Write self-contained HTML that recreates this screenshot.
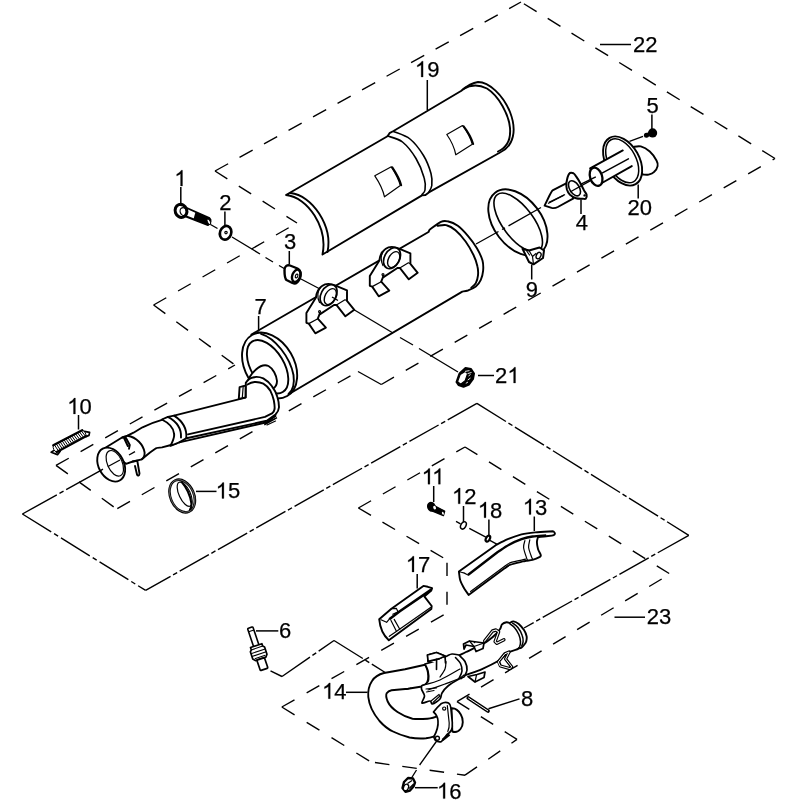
<!DOCTYPE html>
<html>
<head>
<meta charset="utf-8">
<title>Exhaust system - exploded view</title>
<style>
html,body{margin:0;padding:0;background:#fff;}
body{width:800px;height:800px;overflow:hidden;font-family:"Liberation Sans",sans-serif;}
svg{display:block;}
.o{fill:none;stroke:#000;stroke-width:1.9;stroke-linecap:round;stroke-linejoin:round;}
.w{fill:#fff;stroke:#000;stroke-width:1.9;stroke-linecap:round;stroke-linejoin:round;}
.t{fill:none;stroke:#000;stroke-width:1.2;stroke-linecap:round;stroke-linejoin:round;}
.tw{fill:#fff;stroke:#000;stroke-width:1.2;stroke-linejoin:round;}
.k{fill:none;stroke:#000;stroke-width:2.4;stroke-linecap:round;stroke-linejoin:round;}
.kw{fill:#fff;stroke:#000;stroke-width:2.4;stroke-linejoin:round;}
.d{fill:none;stroke:#000;stroke-width:1.4;stroke-dasharray:14.6 13.6;}
.p{fill:none;stroke:#000;stroke-width:1.4;stroke-dasharray:34 3 4.6 3;}
.c{fill:none;stroke:#000;stroke-width:1.35;}
.l{fill:none;stroke:#000;stroke-width:1.5;}
text{font-family:"Liberation Sans",sans-serif;font-size:22px;fill:#000;stroke:#000;stroke-width:.25px;}
</style>
</head>
<body>
<svg width="800" height="800" viewBox="0 0 800 800">
<rect width="800" height="800" fill="#fff"/>
<defs><path id="one" d="M763 0H583V1147Q518 1085 412.5 1023Q307 961 223 930V1104Q374 1175 487 1276Q600 1377 647 1472H763Z" transform="scale(0.010742,-0.010742)" fill="#000" stroke="#000" stroke-width="23"/></defs>

<!-- ===== FRAMES ===== -->
<g id="frames">
<!-- assembly 22 outline (each edge starts with a full dash at its first point) -->
<path class="d" style="stroke-dasharray:15 13" d="M215,171 L521,2"/>
<path class="d" style="stroke-dasharray:15 13" d="M775,158.5 L521,2"/>
<path class="d" d="M381.3,384.5 L775,158.5"/>
<path class="d" style="stroke-dasharray:none" d="M358,371.5 L381.3,384.5"/>
<path class="d" d="M117.3,508.7 L358,371.5"/>
<path class="d" d="M56,465.4 L114.5,507.4"/>
<path class="d" d="M56,465.4 L235,365"/>
<path class="d" d="M153.6,305 L235,365"/>
<path class="d" d="M153.6,305 L297,223"/>
<path class="d" d="M215,171 L297,223"/>
<!-- assembly 23 outline -->
<path class="d" d="M358.4,508 L465,447"/>
<path class="d" d="M465,447 L670,574"/>
<path class="d" style="stroke-dasharray:14.6 13.4" d="M457,701.6 L670,574"/>
<path class="d" d="M457,701.6 L517,739.4"/>
<path class="d" d="M465,775.2 L517,739.4"/>
<path class="d" style="stroke-dasharray:14.6 13;stroke-dashoffset:-4" d="M371,762 L465,775.2"/>
<path class="d" style="stroke-dasharray:15 14.2" d="M281.8,707 L371,762"/>
<path class="d" style="stroke-dasharray:14.6 14" d="M281.8,707 L447,613"/>
<path class="d" style="stroke-dasharray:13.2 15.7;stroke-dashoffset:-2.75" d="M447,560 L447,613"/>
<path class="d" style="stroke-dasharray:14.6 13.3" d="M358.4,508 L447,560"/>
<!-- phantom assembly line -->
<path class="p" style="stroke-dasharray:39.4 3 4.7 3 39 3 4.7 3 34 3 4.7 3" d="M22.4,514 L100,470.8"/>
<path class="p" style="stroke-dasharray:33.9 3.4 4.7 3.4" d="M22.4,514 L145.6,590.4"/>
<path class="p" style="stroke-dasharray:33.5 2.9 4.7 2.87" d="M476.9,403.4 L145.6,590.4"/>
<path class="p" style="stroke-dasharray:34.2 2.95 4.7 2.95" d="M476.9,403.4 L688.8,535.3"/>
<path class="p" style="stroke-dasharray:35.6 2.9 4.6 2.9 33.6 2.9 4.6 2.9 33.6 2.9 4.6 2.9 33.6 2.9 4.6 2.9 33.6 2.9" d="M688.8,535.3 L524,628"/>
<path class="p" style="stroke-dasharray:none" d="M270.5,670.8 L282,676.5"/>
<path class="p" d="M282,676.5 L334,640.5"/>
<path class="p" d="M334,640.5 L386,673"/>
</g>

<!-- ===== PARTS ===== -->
<g id="parts">
<!-- centre lines behind parts -->
<g id="axes">
<path class="c" d="M210.5,224.5 L217.5,228.5 M232,237 L260,254 M265.5,257.5 L273,262 M279,265.5 L285,269 M300,278.5 L320,289"/>
<path class="c" d="M336,299 L393,333 M400,337.5 L413,345 M419,348.5 L458,372"/>

</g>

<!-- 19 heat shield -->
<g id="p19">
<path class="w" d="M286,195 L387.5,136.2 L389.5,133.2 L393.5,131 L461,91 C468,85 474,82.5 478,82 C489,82 503,95 510,112 C517,130 514,146 500,152.5 L428.8,192.4 L425.5,195 L422,195.4 L322.5,254.5 C328,228 308,197 286,195 Z"/>
<path class="o" d="M290.5,193 C312,195 333,226 327.5,252"/>
<path class="o" d="M463.5,89 C470,85 478,84 487,88.5 C499,96 509,115 510,128 C511,140 506,148 498,151.5"/>
<path class="o" d="M387.5,136.0 C390.0,137.0 397.8,138.2 402.5,142.0 C407.2,145.8 412.4,152.5 416.0,158.5 C419.6,164.5 422.8,172.8 424.2,178.0 C425.8,183.2 425.4,187.2 425.0,190.0 C424.6,192.8 422.5,193.8 422.0,194.5" style="stroke-width:1.6"/>
<path class="o" d="M393.5,131.5 C396.2,132.8 405.0,135.0 410.0,139.0 C415.0,143.0 420.0,149.8 423.5,155.5 C427.0,161.2 429.6,168.5 431.0,173.5 C432.4,178.5 432.1,182.4 431.8,185.5 C431.4,188.6 429.2,191.1 428.8,192.2" style="stroke-width:1.6"/>
<path class="t" d="M374.8,175.8 L391.3,166.8 C396,174 399,180 400.3,185.5 L384.5,196.8 C383,190 379,182 374.8,175.8 Z"/>
<path class="o" d="M392.3,167.4 C397,174.5 400,180.5 401.2,185.2" style="stroke-width:2"/>
<path class="t" d="M446.8,134.5 L462.5,125.5 C467,131.5 470.5,138 472.3,144.3 L455.8,154.8 C454.5,148 451,140.5 446.8,134.5 Z"/>
<path class="o" d="M463.5,126.2 C468,132 471.5,138.5 473.2,144" style="stroke-width:2"/>
</g>

<!-- 7 muffler -->
<g id="p7">
<!-- body -->
<path class="w" d="M251.4,334.5 L428.5,232 L429.6,229.7 C431.5,228.4 437.9,223.2 440.9,221.8 C443.9,220.4 444.8,220.6 447.6,221.3 C450.4,221.9 454.4,223.3 457.8,225.8 C461.1,228.2 464.7,232.1 467.9,235.9 C471.1,239.6 474.4,244.1 476.9,248.3 C479.3,252.4 481.5,256.9 482.5,260.6 C483.5,264.4 483.4,267.6 483.1,270.8 C482.8,273.9 482.0,277.1 480.8,279.8 C479.6,282.4 477.9,284.7 475.8,286.5 C473.6,288.3 470.1,289.6 467.9,290.5 C465.6,291.3 463.2,291.4 462.3,291.6 L286.6,395.5 Z"/>
<!-- right end flange -->
<path class="o" d="M437.5,225.8 C439.0,225.7 443.5,224.4 446.5,225.2 C449.5,225.9 452.3,227.5 455.5,230.3 C458.7,233.0 462.6,237.4 465.6,241.5 C468.6,245.6 471.5,250.9 473.5,255.0 C475.5,259.1 476.7,262.9 477.4,266.3 C478.2,269.6 478.3,272.4 478.0,275.3 C477.7,278.1 476.9,281.1 475.8,283.1 C474.6,285.2 472.0,286.9 471.3,287.6"/>
<!-- left end -->
<ellipse class="w" cx="269.6" cy="365.5" rx="35.2" ry="24.5" transform="rotate(60 269.6 365.5)"/>
<path class="o" d="M261,333.8 C275,338 290,357 293.5,375 C295,386 292,391 288.5,394"/>
<ellipse class="o" cx="267.6" cy="366.7" rx="29.5" ry="16.4" transform="rotate(59 267.6 366.7)"/>
</g>
<path class="c" d="M336,299 L393,333"/>
<g id="brk" >
<path class="w" d="M306.4,322.8 L306.4,313 L316,297.6 C316.5,292 319,288 322,286 C326,283 331,283.5 335.6,285.7 L347,290.3 L347,300.8 L354.3,309.8 L345.4,316.3 L336.4,304.9 L334,305 L319.4,314.6 L317.8,318.7 L325.9,327.6 L315.3,333.3 L308.8,323.6 Z"/>
<path class="t" d="M308.8,323.6 L317.8,318.7 M336.4,304.9 L345,299.8 L347,300.8"/>
<path class="t" d="M319.4,314.6 L319.4,312.5"/>
<circle class="t" cx="319.6" cy="311.6" r="1"/>
<ellipse class="w" cx="328.6" cy="295.2" rx="11.2" ry="7.6" transform="rotate(-62 328.6 295.2)" style="stroke-width:1.7"/>
<ellipse class="o" cx="330.3" cy="296.6" rx="8.6" ry="5.2" transform="rotate(-62 330.3 296.6)" style="stroke-width:1.4"/>
<path class="t" d="M320.5,287.5 C317.5,291 316.8,297 319.5,302.5"/>
</g>
<use href="#brk" x="63.4" y="-37"/>
<path class="c" d="M332,297 L338,300.5"/>

<!-- 1 bolt -->
<g id="p1">
<path class="w" d="M183.5,206.5 L209.5,218.2 C211.3,219.5 211,224 208,225 L181,214.5 Z"/>
<path d="M195.5,212 L209.5,218.2 C211.3,219.5 211,224 208,225 L193.5,219.3 Z" fill="#000"/>
<ellipse cx="208.8" cy="221.7" rx="1.4" ry="3" transform="rotate(-25 208.8 221.7)" fill="#fff" stroke="#000" stroke-width="1"/>
<ellipse class="kw" cx="181" cy="210.9" rx="5.8" ry="6.6" transform="rotate(-20 181 210.9)" style="stroke-width:3"/>
<ellipse class="t" cx="183.4" cy="211.6" rx="3.2" ry="4" transform="rotate(-20 183.4 211.6)"/>
</g>
<!-- 2 washer -->
<ellipse class="kw" cx="225.6" cy="232.8" rx="5.6" ry="7" transform="rotate(20 225.6 232.8)" style="stroke-width:2.6"/>
<circle class="t" cx="226" cy="232.6" r="1.2"/>
<!-- 3 spacer -->
<g id="p3">
<path class="kw" d="M284.5,270 C284.5,266 287.5,264.5 290,265.5 L297.5,268.5 C301,270 301.5,276 299,280 C297.5,283 295,284 292.5,283 L286.5,280 C284.5,278.5 284.5,274 284.5,270 Z"/>
<ellipse class="k" cx="296.3" cy="275.8" rx="4" ry="6.4" transform="rotate(20 296.3 275.8)"/>
<ellipse class="t" cx="296.6" cy="276" rx="1.2" ry="2" transform="rotate(20 296.6 276)"/>
</g>
<!-- 21 nut -->
<g id="p21">
<path d="M456.5,382 L459.5,373.5 L465.5,368 L471,369 L474,373.5 L473,379 L469,384.5 L463.5,386.8 L458.5,385 Z" fill="#000" stroke="#000" stroke-width="2" stroke-linejoin="round"/>
<path d="M457.6,381.6 L460.2,374.6 L465,371.4 L467.6,373.6 L465.2,380.6 L460.6,384.2 Z" fill="#fff" stroke="#000" stroke-width="1.2" stroke-linejoin="round"/>
<path d="M465,371.4 L469.5,370.6 M467.6,373.6 L471.5,372.5" stroke="#fff" stroke-width="0.9" fill="none"/>
<path d="M468.5,376 L470.5,374.5 M467.8,380 L470.5,378 M465.8,383.4 L468,382" stroke="#fff" stroke-width="0.9" fill="none"/>
</g>

<!-- 9 clamp -->
<g id="p9">
<ellipse class="o" cx="517.9" cy="222.6" rx="37.6" ry="23.8" transform="rotate(52.7 517.9 222.6)"/>
<ellipse class="o" cx="518.2" cy="222.5" rx="34.9" ry="15.4" transform="rotate(53.3 518.2 222.5)" style="stroke-width:1.6"/>
<path class="kw" d="M522.5,248.8 L529,250.5 L539.5,247.5 L544,250.5 L543,258 L533.5,264.3 L529,262 Z" style="stroke-width:2"/>
<ellipse class="o" cx="538.6" cy="255.6" rx="2.2" ry="3.4" transform="rotate(25 538.6 255.6)" style="stroke-width:1.4"/>
<path class="t" d="M529,250.5 L532.5,256.5 L533.5,264.3 M532.5,256.5 L536,253.5 M526,250 L529.5,255"/>
</g>

<path class="c" d="M476,244 L498.5,231.5 M502,229.5 L505,227.8 M508.5,225.8 L541,207.5 M550,202.5 L566,193.5"/>
<!-- 4 gasket + cone -->
<g id="p4">
<path class="w" d="M544.6,205.7 L549,196.5 C550.5,193.5 551.5,191.5 552.6,190.4 L566.2,183.4 L573.5,198.3 L557.8,207 C555.5,208.2 553.5,208.3 551.6,207.9 Z"/>
<path class="c" d="M548,203.5 L564,195.2"/>
<path class="kw" d="M569.1,173.8 C570.3,172.2 572.3,172.9 573.5,173.3 C574.7,173.8 575.0,174.7 576.1,176.4 C577.3,178.1 579.2,181.0 580.5,183.4 C581.8,185.7 583.0,188.5 584.0,190.4 C585.0,192.3 586.3,193.4 586.6,194.8 C586.9,196.1 586.4,198.0 585.8,198.7 C585.1,199.3 584.3,198.8 582.7,198.7 C581.1,198.6 578.2,198.9 576.1,198.2 C574.0,197.6 571.5,196.2 570.0,194.8 C568.5,193.3 567.5,191.5 566.9,189.5 C566.4,187.5 566.1,185.1 566.5,182.5 C566.9,179.9 568.0,175.3 569.1,173.8 Z" style="stroke-width:2"/>
<ellipse class="o" cx="574.5" cy="188.3" rx="8.4" ry="4.8" transform="rotate(58 574.5 188.3)" style="stroke-width:1.6"/>
<circle cx="584.6" cy="195.4" r="1.2" fill="#000"/>
<path class="c" d="M570,192 L591,180.3"/>
</g>

<path class="c" d="M549,202.4 L565,194.5"/>
<!-- 20 end cap -->
<g id="p20">
<path class="w" d="M632.9,147.0 C634.2,146.9 637.9,145.7 640.8,146.4 C643.6,147.2 647.1,149.2 649.8,151.5 C652.4,153.8 655.2,158.1 656.5,160.5 C657.8,162.9 658.0,164.2 657.6,166.1 C657.2,168.0 655.8,170.3 654.2,171.8 C652.8,173.2 650.5,174.1 648.6,174.6 C646.8,175.0 643.9,174.6 643.0,174.6 L632,160 Z"/>
<ellipse class="w" cx="622.6" cy="161" rx="26.6" ry="16.7" transform="rotate(60.6 622.6 161)"/>
<ellipse class="o" cx="622.2" cy="160.8" rx="23.8" ry="13.8" transform="rotate(62 622.2 160.8)" style="stroke-width:1.5"/>
<path d="M590.1,168.4 L622.8,150.4 L631.8,166.1 L601.9,183 C596,184.5 588.5,176 590.1,168.4 Z" fill="#fff"/>
<path class="o" d="M590.1,168.4 L622.8,150.4 M631.8,166.1 L601.9,183"/>
<ellipse class="w" cx="596.1" cy="176.8" rx="9.4" ry="6" transform="rotate(71 596.1 176.8)" style="stroke-width:2.3"/>
<path class="o" d="M602.5,172.9 L628.4,158.8" style="stroke-width:1.5"/>
<path class="c" d="M580,184.7 L595.8,176.8"/>
</g>
<!-- 5 screw -->
<g id="p5">
<path class="c" d="M629.5,141.4 L643,136.3"/>
<circle cx="646.4" cy="135.2" r="2.5" fill="#000"/>
<path d="M646,135.3 L652,133" stroke="#000" stroke-width="4" fill="none"/>
<circle cx="652.6" cy="132.9" r="4.6" fill="#000"/>
</g>
<!-- 7 inlet pipe -->
<g id="p7pipe">
<!-- outlet cone on muffler face -->
<path class="w" d="M247.5,383 C248.5,378 251,374 256,369.5 C260,366 265,364.5 268.5,366 C273,368.5 276.5,375 277,381 C277,385 275.5,387.5 272.5,389 L262,394 L250,388 Z"/>
<!-- plain pipe (flare to collar) -->
<path class="w" d="M105,448 L122,437.5 L127.5,435.6 L133.5,432.7 L142.5,427.3 C149,424.3 156,421.5 163.5,419.4 L172,417.5 L176,443.5 L171,445 L162,447.4 C159,447.6 157,447.8 156,448.3 L150,452.5 L141.8,459.3 L132.8,461.5 L126,463.8 Z"/>
<path class="o" d="M127.5,435.7 C136.5,437 143.5,445 144.6,452.5 C144.8,456 143.8,458 141.8,459.3"/>
<!-- shielded section + elbow -->
<path class="w" d="M167.9,416.9 L174,415.6 L240.5,398.8 L245.7,397.6 L245.8,382.8 C248,379.5 250,378 252.8,377.5 C256,376.5 260,377 263.3,378.4 C267,380.5 270,383.5 272,386.3 C274.5,389.5 276.3,393 277.3,396.8 C278.5,400.5 279,404 279,407.3 C278.8,410.5 277.5,412.5 275.5,414.5 L266.8,420.8 L186.5,438.2 L179.3,442.3 L170.5,445.8 C173,441 175,437 174,433.5 C173.5,428 169,423 161.8,419.5 Z"/>
<path class="o" d="M247.5,384.5 C250,383 252,382.2 254.5,382 C258,381.8 261,382.5 263.3,383.6 C266,385 268.5,388 270.3,390.6 C272,394 273,397 273.8,400.3 C274.5,404 274.8,406.5 274.6,409 C274.3,411 273.5,412.3 272,413.4 L265,416.9 L188,434.4"/>
<path class="o" d="M275.5,416 L266.8,422.3 L179.3,442.4"/>
<path class="t" d="M265,423.5 L274.5,419 M267,425 L275.5,421"/>
<!-- tab -->
<path class="w" d="M239.6,387.1 L243.2,386.2 L245.6,385.6 L245.5,397.4 L238.8,398.9 Z" />
<path class="t" d="M243.2,386.2 L242.3,397.8"/>
<!-- collar -->
<path class="o" d="M167.9,416.9 C176.5,421.5 181.5,429 181,437.5"/>
<path class="o" d="M174,415.6 C182.5,421 187,429 186.3,438"/>
<!-- hooks -->
<path class="o" d="M122.2,437.6 L125.3,436.6 L129.8,445 L129,448.8 M123.8,437.6 L127.8,446"/>
<path class="o" d="M132.8,461.5 L137.3,460.8 L139.5,473.5 C139.3,476 137.8,476.3 137,474.5 L135,466"/>
<!-- flare -->
<ellipse class="w" cx="111.2" cy="464.6" rx="18" ry="12.6" transform="rotate(62 111.2 464.6)"/>
<ellipse class="t" cx="114.8" cy="463.3" rx="13.6" ry="7.4" transform="rotate(66 114.8 463.3)"/>
<path class="c" d="M100,470.8 L103,469.2 M108,466.5 L120,460 M129,455 L135,451.6"/>
</g>

<!-- 10 spring -->
<g id="p10">
<path d="M53.3,445.2 L82.2,430.2 C84.5,430.4 86.3,433.5 85.9,436.3 L56.8,452 C54,451.5 52.6,448 53.3,445.2 Z" fill="#fff" stroke="#000" stroke-width="1"/>
<path d="M54.3,444.7 L58.5,451.1 M56.2,443.7 L60.4,450.1 M58.1,442.7 L62.4,449.0 M60.0,441.7 L64.3,448.0 M62.0,440.7 L66.2,446.9 M63.9,439.7 L68.2,445.9 M65.8,438.7 L70.1,444.8 M67.8,437.7 L72.1,443.8 M69.7,436.7 L74.0,442.7 M71.6,435.7 L75.9,441.7 M73.5,434.7 L77.9,440.6 M75.5,433.7 L79.8,439.6 M77.4,432.7 L81.8,438.5 M79.3,431.7 L83.7,437.5 M81.2,430.7 L85.6,436.4" stroke="#000" stroke-width="1" fill="none"/>
<path d="M53.3,445.2 L82.2,430.2 M56.8,452 L85.9,436.3" stroke="#000" stroke-width="2.4" stroke-linecap="round" fill="none"/>
<path d="M53.6,450.6 L51.2,452.2 L57.5,454.6 L60.2,451.2" stroke="#000" stroke-width="1.7" fill="none" stroke-linejoin="round" stroke-linecap="round"/>
<path d="M84.5,431.4 L89.6,432.4 L89,435.4 L86,436.6" stroke="#000" stroke-width="1.7" fill="none" stroke-linejoin="round" stroke-linecap="round"/>
</g>

<!-- 15 ring -->
<g id="p15">
<ellipse class="w" cx="182.2" cy="496" rx="17.1" ry="11.7" transform="rotate(66.5 182.2 496)" style="stroke-width:2.6"/>
<ellipse cx="182.2" cy="496" rx="17.1" ry="11.7" transform="rotate(66.5 182.2 496)" fill="none" stroke="#fff" stroke-width="0.35"/>
<ellipse class="t" cx="184.7" cy="494.2" rx="13.1" ry="5.6" transform="rotate(65 184.7 494.2)"/>
<path class="o" d="M181.8,482 C186,487 190,494 191.3,503 C191.6,506 191,508 190,509.5" style="stroke-width:2"/>
</g>
<!-- 11 bolt -->
<g id="p11">
<path d="M434.5,505.8 L444.6,511.2 L443.4,515.6 L432.5,511.2 Z" fill="#000" stroke="#000" stroke-width="1.4" stroke-linejoin="round"/>
<ellipse cx="431.4" cy="506.7" rx="4.3" ry="5.1" transform="rotate(-20 431.4 506.7)" fill="#000"/>
<ellipse cx="434.6" cy="507.6" rx="1.3" ry="1.9" transform="rotate(-25 434.6 507.6)" fill="#fff"/>
<ellipse cx="442.9" cy="513.3" rx="0.9" ry="1.5" transform="rotate(-25 442.9 513.3)" fill="#fff"/>
</g>
<!-- 12 washer / 18 o-ring + axis -->
<path class="c" d="M456,521.3 L460.5,523.8 M469.3,528.3 L485.8,537.2 M489.9,540.4 L498.1,544.8"/>
<ellipse cx="463.4" cy="525.4" rx="2.5" ry="3.9" transform="rotate(28 463.4 525.4)" fill="#fff" stroke="#000" stroke-width="1.5"/>
<ellipse cx="487.9" cy="538.6" rx="1.9" ry="3.2" transform="rotate(28 487.9 538.6)" fill="#fff" stroke="#000" stroke-width="2.2"/>

<!-- 13 heat shield -->
<g id="p13">
<path class="w" d="M458.9,571.6 L495.4,545.4  C497.4,544.4 503.4,541.1 507.8,539.2 C512.1,537.4 516.9,535.6 521.5,534.4 C526.1,533.3 530.0,532.9 535.2,532.4 C540.5,531.8 550.1,531.5 553.1,531.3 C553.4,531.6 554.7,532.4 554.8,533.1 C554.9,533.7 555.2,534.6 553.8,535.1 C552.4,535.7 548.9,535.9 546.2,536.2 C543.6,536.6 539.4,537.0 538.0,537.2 C537.8,538.0 536.9,540.1 536.9,542.0 C536.9,543.9 537.4,546.7 538.0,548.9 C538.6,551.1 540.5,553.7 540.8,555.1 C541.0,556.4 540.8,556.3 539.4,557.1 C538.0,557.9 535.0,559.2 532.5,559.9 C530.0,560.6 527.9,560.4 524.2,561.2 C520.6,562.1 513.7,563.5 510.5,564.7 C507.3,565.8 505.9,567.6 505.0,568.1 L468.6,594.9 C467.9,593.9 465.8,591.2 464.4,588.8 C463.1,586.3 461.2,583.4 460.3,580.5 C459.4,577.6 459.2,573.1 458.9,571.6 Z"/>
<path class="o" d="M467.9,575.0 L497.4,552.3  C499.4,551.1 505.1,546.9 509.1,544.8 C513.1,542.6 517.6,540.6 521.5,539.2 C525.4,537.9 528.4,537.1 532.5,536.5 C536.6,535.9 544.0,535.6 546.2,535.4" style="stroke-width:2.4;stroke-linecap:butt"/>
<path class="t" d="M470.6,591.5 L505.0,566.1  C505.9,565.5 507.1,563.8 510.5,562.6 C513.9,561.5 523.1,559.8 525.6,559.2"/>
<path class="t" d="M524.9,540.6 C524.7,541.8 523.3,544.8 523.6,547.5 C523.8,550.2 525.6,554.9 526.3,557.1 C527.0,559.3 527.5,560.0 527.7,560.6"/>
<path class="t" d="M529.8,539.9 C529.6,541.2 528.4,544.9 528.6,547.5 C528.9,550.1 530.5,553.8 531.1,555.8 C531.8,557.7 532.3,558.6 532.5,559.2"/>
<path class="t" d="M458.9,571.6 C459.7,571.8 462.3,572.4 463.8,572.9 C465.2,573.5 467.2,574.7 467.9,575.0"/>
</g>

<!-- 17 small shield -->
<g id="p17">
<path class="w" d="M379.2,619.2 L391.4,608.7 L423.4,585.9 L427.8,586.8 L432.1,588.1 L431.3,590.5 L424.3,596.4 L431.7,606 L431.3,609.1 L388.8,640.2 C384,636 380,628 379.2,619.2 Z"/>
<path class="o" d="M389.3,619.2 L399.8,611.3 L431.3,589.6" style="stroke-width:2.6;stroke-linecap:butt"/>
<path class="t" d="M391.4,608.7 L396.3,608.3 L398,611.8 L392.8,614.2"/>
<path class="t" d="M389.3,636.3 L396.3,631.4 L430.6,607.6"/>
<path class="t" d="M381,619.8 L386.6,622.3 L389.3,619.2"/>
<path class="t" d="M391,620.5 L396.3,631 M394.2,619.4 L399.8,629.2"/>
</g>

<!-- 6 sensor -->
<g id="p6" transform="rotate(-18.5 257 648)">
<rect x="254.2" y="626.5" width="5.6" height="20" rx="1" fill="#fff" stroke="#000" stroke-width="1.6"/>
<path d="M254.2,630 H259.8" stroke="#000" stroke-width="1.1"/>
<path class="w" d="M251,645.5 H263 V648 L264.5,649.5 V657 L262.5,659.5 H251.5 L249.5,657 V649.5 L251,648 Z" style="stroke-width:1.7"/>
<path d="M251,648 H263 M249.5,651.5 H264.5 M249.5,654.5 H264.5 M251.5,657.5 H262.5" stroke="#000" stroke-width="1.1" fill="none"/>
<rect x="253" y="659.5" width="8" height="11" rx="0.8" fill="#fff" stroke="#000" stroke-width="1.7"/>
</g>

<!-- 14 front pipe -->
<g id="p14">
<!-- outlet stub / flange -->
<path class="w" d="M451.5,708.3 C455,708 458.5,710.5 460.8,714.5 C463.5,719 463.5,725.5 460.5,729 C458.5,731.5 455,732.5 452.3,731.5 Z"/>
<!-- U bend -->
<path class="w" d="M425,664.7 L405,669.2 L384,673 C378,674.5 374.5,677 372,681 C369,685.5 367.8,691 368.3,697 C369,704 372,712 379.5,721 C384,726 388.5,729.5 393,731.5 C399,734.5 404,736 409.5,737.5 C415,738.5 420.5,738.7 426,738.3 C431,737.8 436,736 440,733 L446.5,714 L441,715 C437,716.5 432.5,718.3 427.5,718.7 C422.5,719 417.5,719.3 412.5,718.7 C407,717.5 402,715 397.5,712 C393,709 389.5,705.5 387.7,701.5 C386.2,698 385.8,695 386.7,693.2 C388,691.2 389.5,690.6 391.5,690.2 L408,688.7 L423.5,686.3 C427,684 428.5,680 428.3,676 C428,671 427,667.5 425,664.7 Z"/>
<path class="t" d="M406.5,689.5 L411,688"/>
<!-- flange plate -->
<path class="w" d="M433.5,712 C436,708.5 438.5,706 441,703.8 C444,702 446.5,702 448.5,703 C450,704 450.7,705.5 450.8,707.5 L452.3,722.5 C452.5,725.5 452.3,728 451.5,730 C450.5,732 449,733.2 447,734.5 L441.5,741.5 C439.5,742.5 437,741.5 435,739.8 L433.8,737 C437,731 438.5,726 438,721 C437.8,717 436,714 433.5,712 Z" style="stroke-width:1.7"/>
<path class="t" d="M447.3,705.5 L449.2,723 C449.4,726.5 449,729 447.8,731.5"/>
<circle class="t" cx="444.2" cy="708.6" r="1.6"/>
<circle class="o" cx="437.4" cy="738.2" r="2" style="stroke-width:1.4"/>
<path d="M442.5,740 L449.5,734.5" stroke="#000" stroke-width="2.4" fill="none"/>
<!-- straight pipe to outlet -->
<path class="w" d="M457.0,656.5 C458.5,655.8 461.8,654.1 466.0,652.0 C470.2,649.9 478.6,645.9 482.3,644.0 C486.0,642.1 485.7,642.5 488.0,640.8 C490.3,639.1 493.9,636.1 496.0,634.0 C498.1,631.9 499.4,630.0 500.4,628.4 C501.4,626.8 501.0,625.4 502.0,624.4 C503.0,623.4 505.2,622.5 506.5,622.3 C507.8,622.1 509.4,622.9 510.0,623.0  C510.6,622.7 512.0,621.2 513.5,621.4 C515.0,621.6 517.0,622.5 518.8,624.0 C520.5,625.5 522.7,628.1 524.0,630.1 C525.3,632.1 526.2,634.4 526.6,636.2 C527.0,638.1 526.6,640.0 526.2,641.5 C525.8,643.0 524.8,644.0 524.0,645.0 C523.2,646.0 522.3,647.0 521.4,647.6 C520.5,648.2 519.2,648.4 518.8,648.5  C518.5,648.6 518.8,648.7 517.0,649.4 C515.2,650.1 511.3,650.6 508.2,652.5 C505.2,654.4 503.1,658.0 498.6,660.8 C494.1,663.5 486.9,666.9 481.5,669.3 C476.1,671.7 469.4,673.5 466.0,675.0 C462.6,676.5 461.8,677.9 461.0,678.5 Z"/>
<path class="o" d="M510.0,624.0 C510.7,624.6 512.9,625.8 514.4,627.5 C515.9,629.2 517.7,632.2 518.8,634.5 C519.8,636.8 520.4,639.5 520.5,641.5 C520.6,643.5 520.2,645.4 519.6,646.8 C519.0,648.1 517.4,649.0 517.0,649.4" style="stroke-width:1.5"/>
<path class="o" d="M512.6,623.1 C513.5,623.8 516.3,625.5 517.9,627.5 C519.5,629.5 521.4,633.1 522.2,635.4 C523.1,637.7 523.2,639.8 523.1,641.5 C523.0,643.2 522.0,645.2 521.8,645.9" style="stroke-width:1.5"/>
<!-- top clip -->
<path class="w" d="M464,649 L463.5,644 L469.5,641 L484,643 L483,648.5 L476,651.5 L474,646.5 L466,645 Z" style="stroke-width:1.7"/>
<path class="t" d="M469.5,641 L474,646.5 M484,643 L474,646.5"/>
<circle cx="474.5" cy="642.3" r="0.9" fill="#000"/>
<!-- bottom clip -->
<path class="w" d="M468,676.5 L475,682 L484,677.5 L485,672 L477,674.5 Z" style="stroke-width:1.7"/>
<path class="t" d="M475,682 L476.5,675"/>
<!-- spring clips -->
<path d="M484.6,641 L492.5,631 L496,630 L498.6,631.9 L495.1,641.5 L496.9,643.3 L503.9,639.8" fill="none" stroke="#000" stroke-width="3.4" stroke-linejoin="round" stroke-linecap="round"/>
<path d="M484.6,641 L492.5,631 L496,630 L498.6,631.9 L495.1,641.5 L496.9,643.3 L503.9,639.8" fill="none" stroke="#fff" stroke-width="1.1" stroke-linejoin="round" stroke-linecap="round"/>
<path d="M498.6,661.6 L504.8,653.8 L509.1,652 L505.6,659 L511.8,666.9 L510,668.6 L500.4,666 Z" fill="none" stroke="#000" stroke-width="3.2" stroke-linejoin="round" stroke-linecap="round"/>
<path d="M498.6,661.6 L504.8,653.8 L509.1,652 L505.6,659 L511.8,666.9 L510,668.6 L500.4,666 Z" fill="none" stroke="#fff" stroke-width="1" stroke-linejoin="round" stroke-linecap="round"/>
<!-- heat shield with bracket -->
<path class="w" d="M425.0,664.0 C426.9,663.4 433.0,661.8 436.5,660.5 C440.0,659.2 443.4,657.6 446.0,656.5 C448.6,655.4 449.8,654.2 452.0,654.0 C454.2,653.8 457.8,654.8 459.0,655.0  C460.0,656.1 463.7,659.0 465.0,661.5 C466.3,664.0 467.2,667.4 467.0,670.0 C466.8,672.6 464.5,675.8 464.0,677.0  C463.2,677.3 461.7,677.5 459.0,679.0 C456.3,680.5 450.8,683.7 448.0,686.0 C445.2,688.3 443.3,690.8 442.0,693.0 C440.7,695.2 441.6,697.2 440.0,699.0 C438.4,700.8 434.2,703.7 432.5,704.0 C430.8,704.3 431.8,701.2 430.0,701.0 C428.2,700.8 422.9,703.8 422.0,703.0 C421.1,702.2 424.6,698.3 424.5,696.0 C424.4,693.7 421.9,690.8 421.5,689.0 C421.1,687.2 421.9,686.1 422.0,685.5  C426.4,684.2 428.2,682.3 428.5,680.0 C428.8,677.7 428.6,673.7 428.0,671.0 C427.4,668.3 425.5,665.2 425.0,664.0 Z" style="stroke-width:1.7"/>
<path class="o" d="M455.5,657.5 C456.3,658.5 459.4,661.2 460.5,663.5 C461.6,665.8 462.2,668.5 462.0,671.0 C461.8,673.5 459.5,677.2 459.0,678.5" style="stroke-width:1.6"/>
<path class="t" d="M446.0,661.5 C445.8,662.8 446.0,666.4 445.0,669.0 C444.0,671.6 440.8,675.7 440.0,677.0"/>
<path class="t" d="M422.0,685.5 C425.0,684.6 433.7,682.8 440.0,680.0 C446.3,677.2 456.7,670.8 460.0,669.0"/>
<path class="t" d="M428.0,690.0 C430.8,689.0 440.0,685.8 445.0,684.0 C450.0,682.2 454.8,680.5 458.0,679.0 C461.2,677.5 463.0,675.7 464.0,675.0"/>
<path class="t" d="M426,689 L436.5,687.8 M426.5,692 L434,690.5"/>
<path class="t" d="M431,701 L439,694.5 L440,696 L433,702.5"/>
<path class="w" d="M428,661.8 L427.5,655 L436.5,652.5 L445,656 L445.5,663 M445,656 L439.5,658.6 L428.2,661.4" style="stroke-width:1.7"/>
<path d="M427.5,655 L436.5,652.5 L445,656 L439.5,658.6 L428.2,661.4 Z" fill="#fff" stroke="#000" stroke-width="1.6" stroke-linejoin="round"/>
<path class="o" d="M436.6,659.2 L436.5,669.5" style="stroke-width:1.6"/>
</g>

<!-- 8 pin -->
<path d="M468.3,698 L488,711" stroke="#000" stroke-width="3.8" stroke-linecap="round" fill="none"/>
<path d="M468.6,698.2 L487.7,710.8" stroke="#fff" stroke-width="1" stroke-linecap="round" fill="none"/>

<!-- 16 nut -->
<path class="c" d="M411.5,778 L416.5,770 M419.6,765 L436.7,741"/>
<g id="p16">
<path d="M402.5,788 L404,782 L408,778 L413,778.5 L415,782.5 L413.5,786.5 L410,790.5 L405.5,791.8 Z" fill="#fff" stroke="#000" stroke-width="2.4" stroke-linejoin="round"/>
<ellipse cx="406" cy="787.4" rx="2.4" ry="3.4" transform="rotate(25 406 787.4)" fill="#fff" stroke="#000" stroke-width="1.3"/>
<path d="M407.5,783.5 L412,780.5 M409.2,788.5 L413.4,784.2" stroke="#000" stroke-width="1.3" fill="none"/>
</g>
<!--MORE-->
</g>

<!-- ===== LABELS ===== -->
<g id="labels" style="will-change:transform">
<use href="#one" x="174.30" y="186"/><path class="l" d="M180.8,187 V204"/>
<text x="219.30" y="209.7">2</text><path class="l" d="M224.9,211.5 V226"/>
<text x="284.10" y="249">3</text><path class="l" d="M289.3,251 V264.5"/>
<text x="575.80" y="229.7">4</text><path class="l" d="M581,199.5 V214"/>
<text x="646.40" y="112.8">5</text><path class="l" d="M651.9,114.5 V129.5"/>
<text x="279.00" y="637.8">6</text><path class="l" d="M256,630.9 H278.3"/>
<text x="254.50" y="314">7</text><path class="l" d="M258.6,316 V331.5"/>
<text x="521.00" y="705.8">8</text><path class="l" d="M488.5,708.8 L519.5,698.9"/>
<text x="525.70" y="296.7">9</text><path class="l" d="M531.7,264.5 V279.5"/>
<use href="#one" x="67.20" y="413.9"/><text x="79.44" y="413.9">0</text><path class="l" d="M78.5,415 V429.5"/>
<use href="#one" x="421.70" y="484.2"/><use href="#one" x="432.14" y="484.2"/><path class="l" d="M433.7,486 V502"/>
<use href="#one" x="451.95" y="503.8"/><text x="464.19" y="503.8">2</text><path class="l" d="M463.5,506 V522"/>
<use href="#one" x="522.80" y="514.6"/><text x="535.04" y="514.6">3</text><path class="l" d="M534.3,516.5 V531"/>
<use href="#one" x="322.05" y="698.7"/><text x="334.29" y="698.7">4</text><path class="l" d="M346,692.3 H367.5"/>
<use href="#one" x="215.70" y="498.4"/><text x="227.94" y="498.4">5</text><path class="l" d="M196,491.4 H216.5"/>
<use href="#one" x="436.90" y="798.6"/><text x="449.14" y="798.6">6</text><path class="l" d="M415,787.7 H437.7"/>
<use href="#one" x="405.80" y="572"/><text x="418.04" y="572">7</text><path class="l" d="M417.2,574 V588.5"/>
<use href="#one" x="477.80" y="517.7"/><text x="490.04" y="517.7">8</text><path class="l" d="M488.9,519.5 V535"/>
<use href="#one" x="414.90" y="77"/><text x="427.14" y="77">9</text><path class="l" d="M427.3,80 V110"/>
<text x="627.55" y="214.9">2</text><text x="639.79" y="214.9">0</text><path class="l" d="M638.2,184.5 V198.5"/>
<text x="495.10" y="383">2</text><use href="#one" x="507.34" y="383"/><path class="l" d="M478,375.5 H494"/>
<text x="633.00" y="51.8">2</text><text x="645.24" y="51.8">2</text><path class="l" d="M600,44.5 H631"/>
<text x="646.80" y="624">2</text><text x="659.04" y="624">3</text><path class="l" d="M614.5,617.2 H645"/>
</g>
</svg>
</body>
</html>
